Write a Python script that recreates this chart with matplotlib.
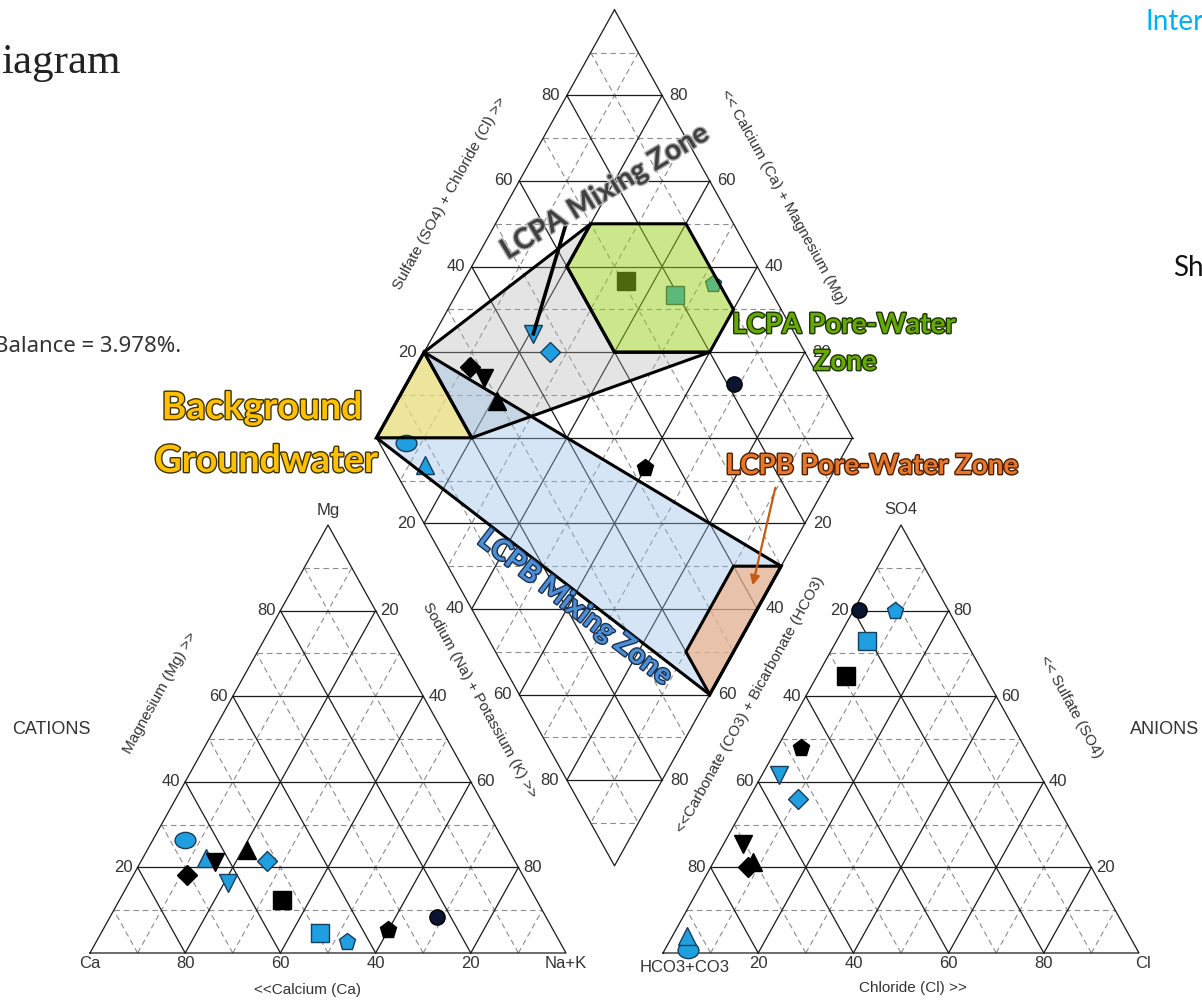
import numpy as np
import matplotlib.pyplot as plt
import matplotlib.patheffects as pe
from matplotlib.path import Path
from matplotlib.transforms import Affine2D
from matplotlib.patches import Polygon

# --- sample chemistry (% meq) ---
ca = [66.8, 64.5, 63.1, 55.0, 52.1, 70.5, 62.8, 53.5, 49.3, 44.7, 34.7, 22.9]
mg = [26.4, 22.2, 21.3, 24.0, 21.5, 18.2, 16.4, 12.4, 4.7, 2.6, 5.4, 8.4]
na_k = [6.8, 13.3, 15.6, 21.0, 26.4, 11.3, 20.8, 34.1, 46.0, 52.7, 59.9, 68.7]

hco3 = [94.5, 93.0, 70.5, 70.5, 53.6, 72.1, 54.9, 29.3, 20.6, 11.4, 47.1, 18.7]
cl = [4.8, 3.1, 4.0, 8.3, 10.4, 7.8, 3.5, 6.0, 6.5, 8.7, 5.0, 1.2]
so4 = [0.7, 3.9, 25.5, 21.2, 36.0, 20.1, 41.6, 64.7, 72.9, 79.9, 47.9, 80.1]

# zones in the diamond, (Na+K %, HCO3 %) corners
zone_grey = [(0, 80), (20, 30), (20, 40), (40, 40), (60, 20), (20, 80)]
zone_blue = [(0, 100), (0, 80), (100, 30), (100, 60)]
zone_yellow = [(0, 100), (0, 80), (20, 80)]
zone_green = [(20, 30), (40, 10), (60, 10), (60, 20), (40, 40), (20, 40)]
zone_orange = [(90, 40), (100, 30), (100, 60), (90, 60)]

tick_vals = [20, 40, 60, 80]

# --- layout (pixels) ---
SIDE = 476.0
HGT = 428.0
CAT_X0 = 90.0
AN_X0 = 663.0
BASE_Y = 953.0
DX0 = (CAT_X0 + SIDE + AN_X0) / 2
DY0 = BASE_Y - HGT * (AN_X0 - CAT_X0 - SIDE) / SIDE


def cat_xy(m, n):
    return CAT_X0 + SIDE * (n + m / 2) / 100, BASE_Y - HGT * m / 100


def an_xy(s, c):
    return AN_X0 + SIDE * (c + s / 2) / 100, BASE_Y - HGT * s / 100


def dia_xy(p, q):
    return DX0 + SIDE / 2 * (p - q) / 100, DY0 - HGT * (200 - p - q) / 100


fig = plt.figure(figsize=(12.02, 10.01), dpi=100)
ax = fig.add_axes([0, 0, 1, 1])
ax.set_xlim(0, 1202)
ax.set_ylim(1001, 0)
ax.axis("off")

SOLID = dict(color="#1a1a1a", lw=0.9, zorder=2)
DASH = dict(color="#8c8c8c", lw=0.8, dashes=(5, 3.5), zorder=1)


def seg(f, a, b, style):
    x0, y0 = f(*a)
    x1, y1 = f(*b)
    ax.plot([x0, x1], [y0, y1], **style)


def tri_grid(f):
    for k in range(1, 10):
        v = k * 10
        st = SOLID if k % 2 == 0 else DASH
        seg(f, (v, 0), (v, 100 - v), st)
        seg(f, (0, v), (100 - v, v), st)
        seg(f, (0, 100 - v), (100 - v, 0), st)
    pts = [f(0, 0), f(0, 100), f(100, 0), f(0, 0)]
    ax.plot([p[0] for p in pts], [p[1] for p in pts], **SOLID)


tri_grid(cat_xy)
tri_grid(an_xy)

# diamond grid
for k in range(1, 10):
    v = k * 10
    st = SOLID if k % 2 == 0 else DASH
    seg(dia_xy, (v, 0), (v, 100), st)
    seg(dia_xy, (0, v), (100, v), st)
for k in range(1, 20):
    s = k * 10
    st = SOLID if k % 2 == 0 else DASH
    if s <= 100:
        seg(dia_xy, (0, s), (s, 0), st)
    else:
        seg(dia_xy, (s - 100, 100), (100, s - 100), st)
pts = [dia_xy(0, 0), dia_xy(100, 0), dia_xy(100, 100), dia_xy(0, 100), dia_xy(0, 0)]
ax.plot([p[0] for p in pts], [p[1] for p in pts], **SOLID)

# --- tick labels ---
TK = dict(fontsize=12, color="#333333", family="Liberation Sans", va="center")
for v in tick_vals:
    x, y = cat_xy(0, v)
    ax.text(x, y + 10, str(100 - v), ha="center", **TK)
    x, y = cat_xy(v, 0)
    ax.text(x - 5, y, str(v), ha="right", **TK)
    x, y = cat_xy(v, 100 - v)
    ax.text(x + 5, y, str(100 - v), ha="left", **TK)

    x, y = an_xy(0, v)
    ax.text(x, y + 10, str(v), ha="center", **TK)
    x, y = an_xy(v, 0)
    ax.text(x - 5, y, str(100 - v), ha="right", **TK)
    x, y = an_xy(v, 100 - v)
    ax.text(x + 5, y, str(v), ha="left", **TK)

    x, y = dia_xy(0, 100 - v)
    ax.text(x - 7, y, str(v), ha="right", **TK)
    x, y = dia_xy(v, 0)
    ax.text(x + 7, y, str(100 - v), ha="left", **TK)
    x, y = dia_xy(v, 100)
    ax.text(x - 8, y, str(v), ha="right", **TK)
    x, y = dia_xy(100, v)
    ax.text(x + 8, y, str(v), ha="left", **TK)

x, y = cat_xy(0, 0)
ax.text(x, y + 10, "Ca", ha="center", **TK)
x, y = cat_xy(0, 100)
ax.text(x, y + 10, "Na+K", ha="center", **TK)
x, y = cat_xy(100, 0)
ax.text(x, y - 15, "Mg", ha="center", **TK)
x, y = an_xy(0, 0)
ax.text(x + 22, y + 15, "HCO3+CO3", ha="center", **TK)
x, y = an_xy(0, 100)
ax.text(x + 4, y + 10, "Cl", ha="center", **TK)
x, y = an_xy(100, 0)
ax.text(x, y - 15, "SO4", ha="center", **TK)

AX = dict(fontsize=11, color="#333333", family="Liberation Sans",
          ha="center", va="center", rotation_mode="anchor")
ax.text(160, 693, "Magnesium (Mg) >>", rotation=61, **AX)
ax.text(480, 700, "Sodium (Na) + Potassium (K) >>", rotation=-61, **AX)
ax.text(308, 990, "<<Calcium (Ca)", **AX)
ax.text(750, 705, "<<Carbonate (CO3) + Bicarbonate (HCO3)", rotation=61, **AX)
ax.text(1071, 707, "<< Sulfate (SO4)", rotation=-61, **AX)
ax.text(913, 988, "Chloride (Cl) >>", **AX)
ax.text(450, 193, "Sulfate (SO4) + Chloride (Cl) >>", rotation=61, **AX)
ax.text(783, 197, "<< Calcium (Ca) + Magnesium (Mg)", rotation=-61, **AX)
ax.text(51, 730, "CATIONS", fontsize=13, color="#333333", family="Liberation Sans",
        ha="center", va="center")
ax.text(1165, 730, "ANIONS", fontsize=13, color="#333333", family="Liberation Sans",
        ha="center", va="center")

# --- samples ---
BLUE = "#1f9fdf"
BLK = "#000000"
NAVY = "#0b1430"
ellipse = Path.unit_circle().transformed(Affine2D().scale(1.0, 0.78))
shapes = [ellipse, "^", "v", "^", "D", "D", "v", "s", "s", "p", "p", "o"]
faces = [BLUE, BLUE, BLK, BLK, BLUE, BLK, BLUE, BLK, BLUE, BLUE, BLK, NAVY]
sizes = [15, 13, 13, 13, 10.5, 10, 13, 13, 13, 12.5, 12.5, 11]

for i in range(len(ca)):
    edge = "#1c3d5a" if faces[i] == BLUE else "#000000"
    pos = [cat_xy(mg[i], na_k[i]), an_xy(so4[i], cl[i]),
           dia_xy(na_k[i], hco3[i])]
    for px, py in pos:
        ax.plot(px, py, marker=shapes[i], ms=sizes[i], mfc=faces[i],
                mec=edge, mew=1.0, ls="none", zorder=4)

# --- zones ---
def zone(corners, color, alpha, z):
    xy = [dia_xy(p, q) for p, q in corners]
    ax.add_patch(Polygon(xy, closed=True, fc=color, ec="none", alpha=alpha, zorder=z))
    ax.add_patch(Polygon(xy, closed=True, fc="none", ec="black", lw=2.2, zorder=7))


# mixing zones sit under the points, pore-water zones tint the points
zone(zone_grey, "#b4b4b4", 0.35, 3)
zone(zone_blue, "#98c0e6", 0.4, 3.1)
zone(zone_yellow, "#ffe661", 0.6, 3.2)
zone(zone_green, "#9bd119", 0.5, 5)
zone(zone_orange, "#f7ac7a", 0.6, 5)

# pointer from the mixing-zone label to the LCPA sample
tx, ty = dia_xy(na_k[6], hco3[6])
ax.plot([566, tx], [224, ty], color="black", lw=2.6, zorder=8)

ax.annotate("", xy=(752, 588), xytext=(776, 485),
            arrowprops=dict(arrowstyle="-|>", color="#c55a11", lw=1.6,
                            mutation_scale=14), zorder=8)


def label(x, y, s, color, edge, size, rot=0, stroke=2.0):
    ax.text(x, y, s, fontsize=size, fontweight="bold", family="Lato",
            color=color, ha="center", va="center", rotation=rot,
            rotation_mode="anchor", zorder=9,
            path_effects=[pe.withStroke(linewidth=stroke, foreground=edge)])


label(262, 408, "Background", "#ffc000", "#3d3300", 27)
label(266, 461, "Groundwater", "#ffc000", "#3d3300", 27)
label(605, 192, "LCPA Mixing Zone", "#404040", "#b0b0b0", 20.5, rot=31)
label(844, 325, "LCPA Pore-Water", "#66aa00", "#1f3300", 20)
label(845, 362, "Zone", "#66aa00", "#1f3300", 20)
label(872, 466, "LCPB Pore-Water Zone", "#e8772e", "#4a2000", 20)
label(575, 608, "LCPB Mixing Zone", "#4d8fd6", "#1c3050", 20.5, rot=-37.4)

# --- surrounding page text ---
ax.text(1, 73, "iagram", fontsize=31, family="Liberation Serif", color="#222222",
        ha="left", va="baseline")
ax.text(181, 347, "Balance = 3.978%.", fontsize=16, family="Noto Sans",
        color="#333333", ha="right", va="center")
ax.text(1145, 22, "Inter", fontsize=20, family="Lato", color="#00b0f0",
        ha="left", va="center")
ax.text(1173, 268, "Sh", fontsize=20, family="Lato", color="#111111",
        ha="left", va="center")

fig.savefig("out.png", dpi=100)
